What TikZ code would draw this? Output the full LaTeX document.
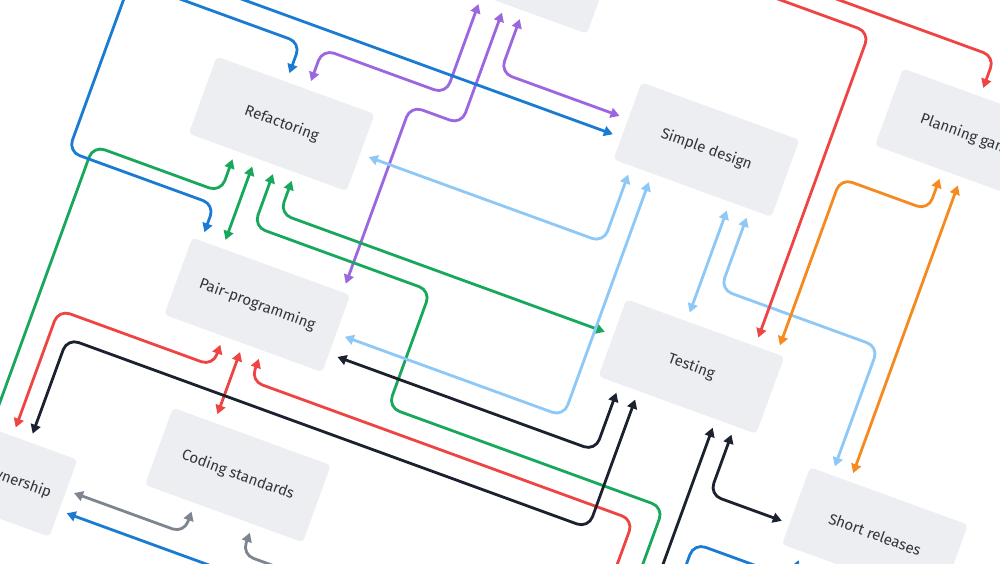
\documentclass[tikz,border=0pt]{standalone}
\usepackage{fontspec}
\newfontfamily\boxfont{Fira Sans}
\usetikzlibrary{arrows.meta,calc}
\definecolor{cBlue}{HTML}{1B7BD3}
\definecolor{cPurple}{HTML}{9B66DF}
\definecolor{cLight}{HTML}{8EC8F6}
\definecolor{cGreen}{HTML}{17A85B}
\definecolor{cRed}{HTML}{EF4444}
\definecolor{cOrange}{HTML}{F58B1F}
\definecolor{cBlack}{HTML}{1C2130}
\definecolor{cGrey}{HTML}{7D8591}
\definecolor{boxgray}{HTML}{ECEEF1}
\definecolor{txt}{HTML}{30353D}
\begin{document}
\begin{tikzpicture}[x=1pt,y=-1pt,
  practice/.style={fill=boxgray, rounded corners=4pt, minimum width=168pt, minimum height=82pt,
    inner sep=0pt, font=\boxfont\fontsize{15}{17}\selectfont, text=txt},
  conn/.style={line width=2.8pt, rounded corners=12pt},
  >={Triangle[length=9pt,width=10pt]}]
\useasboundingbox (0,0) rectangle (1000,563);
\fill[white] (0,0) rectangle (1000,563);
\clip (0,0) rectangle (1000,563);
\begin{scope}[transform canvas={rotate=-20}]
% practices
\node[practice] (top) at (479,-210) {};
\node[practice] (ref) at (307,20) {Refactoring};
\node[practice] (sd) at (715,-101) {Simple design};
\node[practice] (pg) at (956,-203.5) {Planning game};
\node[practice] (pp) at (346,198.5) {Pair-programming};
\node[practice] (te) at (775,108) {Testing};
\node[practice] (cs) at (386,365) {Coding standards};
\node[practice] (co) at (146,446.5) {Collective ownership};
\node[practice] (sr) at (1005,203) {Short releases};
% Refactoring
\draw[conn,cBlue,->] (0,-62.5) -| ($(ref.north)+(-10,-9)$);
\draw[conn,cPurple,<->] ($(ref.north)+(13,-9)$) -- ($(ref.north)+(13,-43)$) -| ($(top.south)+(-28,9)$);
\draw[conn,cPurple,<->] ($(top.south)+(-3,9)$) |- (422,-41) -- ($(pp.north)+(76,-9)$);
\draw[conn,cPurple,<->] ($(top.south)+(16,9)$) |- ($(sd.west)+(-9,-2)$);
\draw[conn,cBlue,->] (0,-83.5) -- ($(sd.west)+(-9,17.5)$);
\draw[conn,cLight,<->] ($(ref.east)+(9,1.5)$) -| ($(sd.south)+(-65,9)$);
\draw[conn,cGreen,<-] ($(ref.south)+(-34,9)$) |- (137.5,105) -- (137.5,650);
\draw[conn,cGreen,<->] ($(ref.south)+(-13,9)$) -- ($(pp.north)+(-52,-9)$);
\draw[conn,cGreen,<-] ($(ref.south)+(9,9)$) |- (504,126) |- (797,250) -- (797,700);
\draw[conn,cGreen,<->] ($(ref.south)+(29,9)$) |- ($(te.west)+(-9,-3)$);
% Pair-programming
\draw[conn,cBlue,->] (116,-300) |- (271.5,119) -- ($(pp.north)+(-74.5,-9)$);
\draw[conn,cLight,<->] ($(pp.east)+(9,0)$) -| ($(sd.south)+(-43,9)$);
\draw[conn,cBlack,<->] ($(pp.east)+(9,21.5)$) -| ($(te.south)+(-61.5,9)$);
\draw[conn,cRed,<->] ($(pp.south)+(-21,9)$) |- (161,271) -- ($(co.north)+(15,-9)$);
\draw[conn,cRed,<->] ($(pp.south)+(0,9)$) -- ($(cs.north)+(-40,-9)$);
\draw[conn,cRed,<-] ($(pp.south)+(20,9)$) |- (773,272) -- (773,700);
\draw[conn,cBlack,<->] ($(co.north)+(33,-9)$) |- (733.5,295) -- ($(te.south)+(-41.5,9)$);
% Testing
\draw[conn,cLight,<->] ($(sd.south)+(40,9)$) -- ($(te.north)+(-20,-9)$);
\draw[conn,cLight,<->] ($(sd.south)+(61,9)$) |- (944,25.5) -- ($(sr.north)+(-61,-9)$);
\draw[conn,cRed,->] (600,-267) -| ($(te.north)+(53,-9)$);
\draw[conn,cOrange,<->] ($(te.north)+(76,-9)$) |- (944,-120) -- ($(pg.south)+(-12,9)$);
\draw[conn,cBlack,<-] ($(te.south)+(41,9)$) -- (816,700);
\draw[conn,cBlack,<->] ($(te.south)+(61,9)$) |- ($(sr.west)+(-8,19)$);
% Planning game
\draw[conn,cRed,->] (700,-287) -| ($(pg.north)+(-2,-9)$);
\draw[conn,cOrange,<->] ($(pg.south)+(7.5,9)$) -- ($(sr.north)+(-41.5,-9)$);
% Coding standards / Collective ownership
\draw[conn,cGrey,<->] ($(cs.south)+(-31,9)$) |- ($(co.east)+(8,-8.5)$);
\draw[conn,cGrey,<-] ($(cs.south)+(31,9)$) |- (700,438);
\draw[conn,cBlue,<-] ($(co.east)+(8,13)$) -- (700,459.5);
\draw[conn,cBlue,->] (838,800) |- (942,273) -- ($(sr.south)+(-63,9)$);
\end{scope}
\end{tikzpicture}
\end{document}
